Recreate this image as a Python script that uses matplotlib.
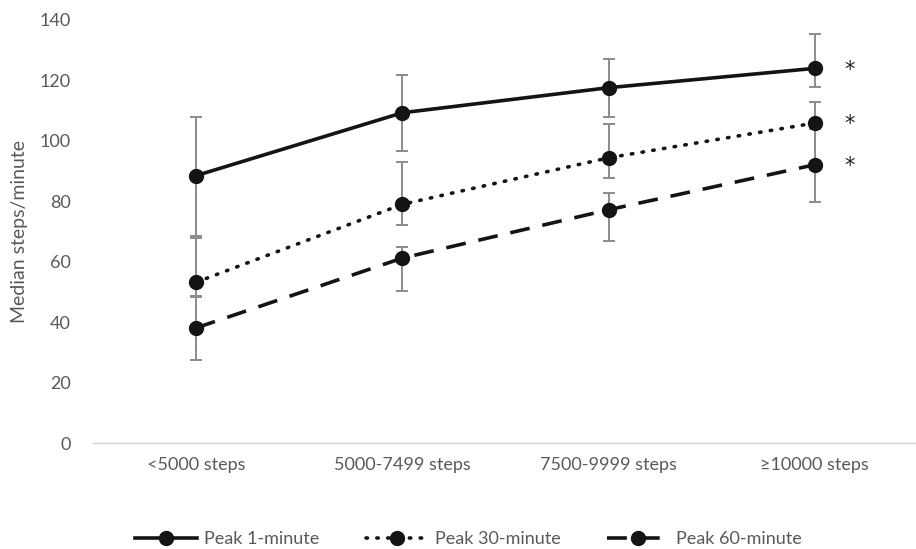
import matplotlib
matplotlib.use("Agg")
import matplotlib.pyplot as plt
import numpy as np

plt.rcParams['font.family'] = ['Lato', 'DejaVu Sans']

categories = ["<5000 steps", "5000-7499 steps", "7500-9999 steps", "≥10000 steps"]

peak1 = [88.5, 109.3, 117.6, 124.0]
peak1_lo = [68.4, 96.6, 107.8, 117.9]
peak1_hi = [107.9, 121.8, 127.1, 135.3]

peak30 = [53.2, 79.0, 94.4, 105.9]
peak30_lo = [48.4, 72.2, 87.6, 93.0]
peak30_hi = [68.0, 93.0, 105.6, 112.9]

peak60 = [38.1, 61.2, 77.2, 92.1]
peak60_lo = [27.6, 50.2, 66.7, 79.9]
peak60_hi = [48.6, 65.0, 82.9, 104.0]

gray = "#595959"
err_col = "#8c8c8c"

fig = plt.figure(figsize=(9.16, 5.49), dpi=100)
ax = fig.add_axes([93 / 916, 1 - 443 / 549, 825 / 916, 423 / 549])

x = np.arange(len(categories))
series = [
    ("Peak 1-minute", peak1, peak1_lo, peak1_hi, "-", "butt"),
    ("Peak 30-minute", peak30, peak30_lo, peak30_hi, (0, (0.4, 2.6)), "round"),
    ("Peak 60-minute", peak60, peak60_lo, peak60_hi, (0, (5.5, 3.6)), "butt"),
]

for name, vals, lo, hi, ls, cs in series:
    vals = np.array(vals)
    yerr = [vals - np.array(lo), np.array(hi) - vals]
    ax.errorbar(x, vals, yerr=yerr, fmt="none", ecolor=err_col, elinewidth=1.4,
                capsize=4.5, capthick=1.4, zorder=2)
    ax.plot(x, vals, color="#141414", linewidth=2.6, linestyle=ls,
            dash_capstyle=cs, marker="o", markersize=10, label=name, zorder=3)
    ax.annotate("*", (x[-1], vals[-1]), xytext=(25, -1), textcoords="offset points",
                fontsize=15, color="#222222", ha="center", va="center",
                family="DejaVu Sans")

ax.set_xlim(-0.5, 3.5)
ax.set_ylim(0, 140)
ax.set_yticks(range(0, 141, 20))
ax.set_xticks(x)
ax.set_xticklabels(categories)
ax.tick_params(axis="both", length=0, labelsize=13, colors=gray, pad=10)
ax.tick_params(axis="y", pad=16)
for side in ["top", "right", "left"]:
    ax.spines[side].set_visible(False)
ax.spines["bottom"].set_color("#d0d0d0")
ax.spines["bottom"].set_linewidth(1)
ax.set_ylabel("Median steps/minute", fontsize=14, color=gray, labelpad=8)

leg = ax.legend(loc="upper center", bbox_to_anchor=(0.455, -0.17), ncol=3,
                frameon=False, fontsize=13, handlelength=3.4, columnspacing=2.6,
                handletextpad=0.4)
for t in leg.get_texts():
    t.set_color(gray)

fig.savefig("out.png", dpi=100)
